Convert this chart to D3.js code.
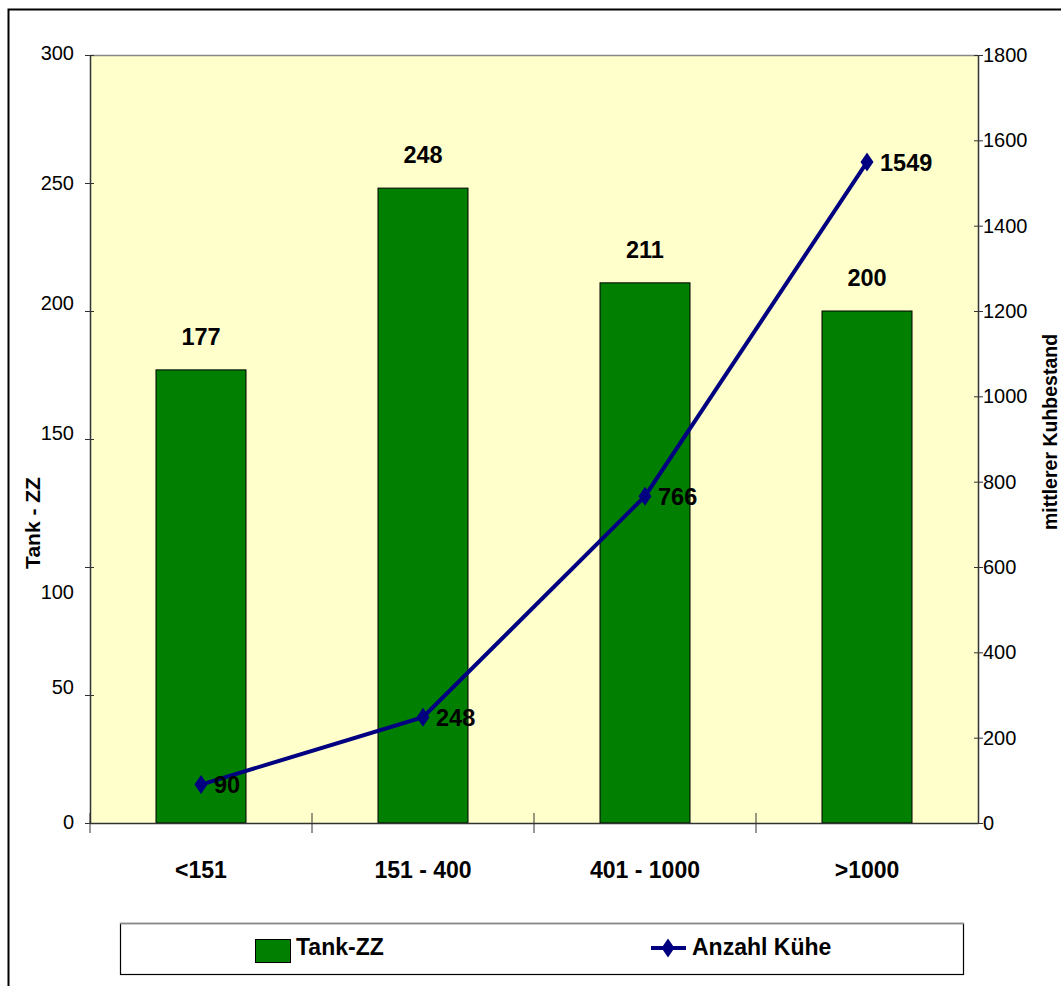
<!DOCTYPE html>
<html>
<head>
<meta charset="utf-8">
<script src="https://cdn.jsdelivr.net/npm/d3@7"></script>
<style>
  html, body { margin: 0; padding: 0; background: #fff; }
  svg { display: block; font-family: "Liberation Sans", Arial, Helvetica, sans-serif; }
</style>
</head>
<body>
<svg id="chart" width="1061" height="986"></svg>
<script>
// Herd size classes
const categories = ["<151", "151 - 400", "401 - 1000", ">1000"];
// Tank-ZZ per class (bars, left axis)
const tankZZ = [177, 248, 211, 200];
// Mean number of cows per class (line, right axis)
const anzahlKuehe = [90, 248, 766, 1549];
const leftTicks = [0, 50, 100, 150, 200, 250, 300];
const rightTicks = [0, 200, 400, 600, 800, 1000, 1200, 1400, 1600, 1800];

const FONT = "'Liberation Sans', Arial, Helvetica, sans-serif";
const svg = d3.select("#chart");
const plot = { left: 90, right: 978, top: 55, bottom: 823 };

// Outer frame
svg.append("rect")
  .attr("x", 8.5).attr("y", 9.5)
  .attr("width", 1100).attr("height", 1100)
  .attr("fill", "none").attr("stroke", "#000").attr("stroke-width", 2);

const x = d3.scaleBand().domain(categories).range([plot.left, plot.right]).padding(0);
const yL = d3.scaleLinear().domain([0, 300]).range([plot.bottom, plot.top]);
const yR = d3.scaleLinear().domain([0, 1800]).range([plot.bottom, plot.top]);

// Plot background
svg.append("rect")
  .attr("x", plot.left).attr("y", plot.top)
  .attr("width", plot.right - plot.left).attr("height", plot.bottom - plot.top)
  .attr("fill", "#FFFFCC");
svg.append("line")
  .attr("x1", plot.left).attr("x2", plot.right)
  .attr("y1", plot.top + 0.5).attr("y2", plot.top + 0.5)
  .attr("stroke", "#888").attr("stroke-width", 1.5);

// Bars
const barW = 90;
svg.append("g").selectAll("rect")
  .data(tankZZ)
  .join("rect")
  .attr("x", (d, i) => x(categories[i]) + x.bandwidth() / 2 - barW / 2)
  .attr("y", d => yL(d))
  .attr("width", barW)
  .attr("height", d => yL(0) - yL(d))
  .attr("fill", "#007F00")
  .attr("stroke", "#000").attr("stroke-width", 1);

// Bar value labels
svg.append("g").selectAll("text")
  .data(tankZZ)
  .join("text")
  .attr("x", (d, i) => x(categories[i]) + x.bandwidth() / 2)
  .attr("y", d => yL(d) - 25)
  .attr("text-anchor", "middle")
  .attr("font-size", 23.5).attr("font-weight", "bold")
  .text(d => d);

// Left axis (tick labels sit with small individual vertical nudges)
const leftLabelNudge = { 0: -1, 50: -8, 100: 25, 150: -6, 200: -8, 250: 0, 300: -2 };
const axL = svg.append("g")
  .attr("transform", `translate(${plot.left},0)`)
  .call(d3.axisLeft(yL).tickValues(leftTicks).tickSize(5).tickSizeOuter(0).tickPadding(11));
axL.select(".domain").attr("stroke", "#333").attr("stroke-width", 1.5);
axL.selectAll(".tick line").attr("x2", 4).attr("x1", -5).attr("stroke", "#333");
axL.selectAll(".tick text").attr("font-size", 20)
  .attr("y", d => leftLabelNudge[d] || 0).attr("dy", "0.32em")
  .attr("font-family", FONT).attr("fill", "#000");

// Right axis
const axR = svg.append("g")
  .attr("transform", `translate(${plot.right},0)`)
  .call(d3.axisRight(yR).tickValues(rightTicks).tickFormat(d3.format("d"))
    .tickSize(5).tickSizeOuter(0).tickPadding(0));
axR.select(".domain").attr("stroke", "#333").attr("stroke-width", 1.5);
axR.selectAll(".tick line").attr("x1", -4).attr("x2", 5).attr("stroke", "#333");
axR.selectAll(".tick text").attr("font-size", 20).attr("dy", "0.32em")
  .attr("font-family", FONT).attr("fill", "#000");

// Bottom axis
const axB = svg.append("g")
  .attr("transform", `translate(0,${plot.bottom})`)
  .call(d3.axisBottom(x).tickSize(0).tickPadding(39));
axB.select(".domain").attr("stroke", "#333").attr("stroke-width", 1.5);
axB.selectAll(".tick text").attr("font-size", 23).attr("font-weight", "bold")
  .attr("font-family", FONT).attr("fill", "#000");
// Category separators on the bottom axis
svg.append("g").selectAll("line")
  .data(categories)
  .join("line")
  .attr("x1", d => x(d)).attr("x2", d => x(d))
  .attr("y1", plot.bottom - 10).attr("y2", plot.bottom + 10)
  .attr("stroke", "#333").attr("stroke-width", 1);

// Axis titles
svg.append("text")
  .attr("transform", `translate(40,523) rotate(-90)`)
  .attr("text-anchor", "middle")
  .attr("font-size", 21).attr("font-weight", "bold")
  .text("Tank - ZZ");
svg.append("text")
  .attr("transform", `translate(1057,432) rotate(-90)`)
  .attr("text-anchor", "middle")
  .attr("font-size", 19.5).attr("font-weight", "bold")
  .text("mittlerer Kuhbestand");

// Line series
const cx = (d, i) => x(categories[i]) + x.bandwidth() / 2;
const line = d3.line().x(cx).y(d => yR(d));
svg.append("path")
  .datum(anzahlKuehe)
  .attr("d", line)
  .attr("fill", "none")
  .attr("stroke", "#000080").attr("stroke-width", 4);

// Tall diamond marker
const diamondPath = "M0,-9.5L6.5,0L0,9.5L-6.5,0Z";
svg.append("g").selectAll("path")
  .data(anzahlKuehe)
  .join("path")
  .attr("transform", (d, i) => `translate(${cx(d, i)},${yR(d)})`)
  .attr("d", diamondPath)
  .attr("fill", "#000080");

svg.append("g").selectAll("text")
  .data(anzahlKuehe)
  .join("text")
  .attr("x", (d, i) => cx(d, i) + 13)
  .attr("y", d => yR(d) + 8.5)
  .attr("font-size", 23.5).attr("font-weight", "bold")
  .text(d => d);

// Legend
const lg = svg.append("g");
lg.append("rect")
  .attr("x", 120.5).attr("y", 923.5).attr("width", 843).attr("height", 51)
  .attr("fill", "#fff").attr("stroke", "#000").attr("stroke-width", 1.2);
lg.append("line")
  .attr("x1", 120).attr("x2", 964).attr("y1", 923.5).attr("y2", 923.5)
  .attr("stroke", "#888").attr("stroke-width", 1.5);
lg.append("rect")
  .attr("x", 255.5).attr("y", 939.5).attr("width", 35).attr("height", 23)
  .attr("fill", "#007F00").attr("stroke", "#000").attr("stroke-width", 1);
lg.append("text")
  .attr("x", 296).attr("y", 955)
  .attr("font-size", 23).attr("font-weight", "bold")
  .text("Tank-ZZ");
lg.append("line")
  .attr("x1", 651).attr("x2", 686).attr("y1", 948).attr("y2", 948)
  .attr("stroke", "#000080").attr("stroke-width", 4);
lg.append("path")
  .attr("transform", "translate(668,948)")
  .attr("d", diamondPath)
  .attr("fill", "#000080");
lg.append("text")
  .attr("x", 692).attr("y", 955)
  .attr("font-size", 23).attr("font-weight", "bold")
  .text("Anzahl Kühe");
</script>
</body>
</html>
